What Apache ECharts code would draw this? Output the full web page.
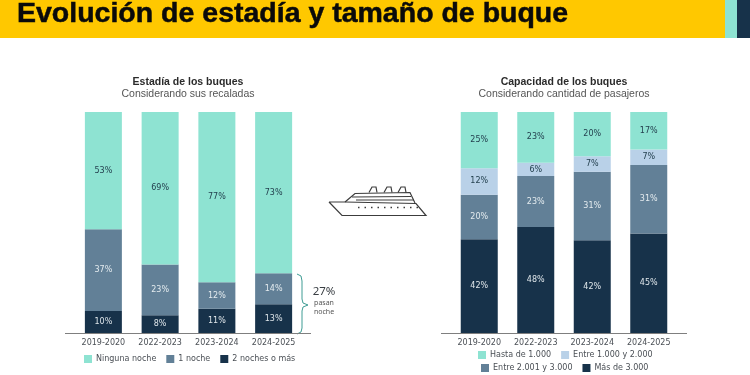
<!DOCTYPE html>
<html>
<head>
<meta charset="utf-8">
<style>
  html, body { margin: 0; padding: 0; background: #fff; }
  #chart { width: 750px; height: 375px; }
</style>
<script src="https://cdn.jsdelivr.net/npm/echarts@6/dist/echarts.min.js"></script>
</head>
<body>
<div id="chart"></div>
<script>
const years = ["2019-2020", "2022-2023", "2023-2024", "2024-2025"];

// estadia
const dosNoches = [10, 8, 11, 13];
const unaNoche = [37, 23, 12, 14];
const ningunaNoche = [53, 69, 77, 73];

// capacidad (2019-2020 rounds to 99 in the labels, bar still fills the column)
const mas3000 = [42.4, 48, 42, 45];
const entre2001 = [20.2, 23, 31, 31];
const entre1000 = [12, 6, 7, 7];
const hasta1000 = [25.4, 23, 20, 17];

const navy = "#17324a";
const slate = "#628097";
const teal = "#8ee3d2";
const pale = "#b9d1e8";
const tickFont = "DejaVu Sans";

function barSeries(name, data, color, labelColor, axisIndex) {
  return {
    name: name,
    type: "bar",
    stack: "s" + axisIndex,
    xAxisIndex: axisIndex,
    yAxisIndex: axisIndex,
    barWidth: 37,
    data: data,
    itemStyle: { color: color },
    label: {
      show: true,
      position: "inside",
      color: labelColor,
      fontFamily: tickFont,
      fontSize: 8,
      formatter: (p) => Math.round(p.value) + "%",
    },
  };
}

function legendOpt(names, left, top) {
  return {
    data: names,
    left: left,
    top: top,
    icon: "rect",
    itemWidth: 8,
    itemHeight: 8,
    itemGap: 10,
    padding: 0,
    selectedMode: false,
    textStyle: { fontFamily: tickFont, fontSize: 8, color: "#4a4f55", padding: [0, 0, 0, -1] },
  };
}

function xAxisOpt(gridIndex) {
  return {
    type: "category",
    gridIndex: gridIndex,
    data: years,
    axisTick: { show: false },
    axisLine: { lineStyle: { color: "#7f7f7f", width: 1 } },
    axisLabel: { interval: 0, fontFamily: tickFont, fontSize: 8, color: "#4a4f55", margin: 6 },
  };
}

function yAxisOpt(gridIndex) {
  return { type: "value", gridIndex: gridIndex, min: 0, max: 100, show: false };
}

function textEl(text, x, y, size, weight, color, align, font) {
  return {
    type: "text",
    x: x,
    y: y,
    style: {
      text: text,
      fontSize: size,
      fontWeight: weight,
      fill: color,
      align: align,
      verticalAlign: "middle",
      fontFamily: font || "Liberation Sans",
    },
  };
}

function lineEl(points, color, width, smooth) {
  return {
    type: "polyline",
    shape: { points: points, smooth: smooth || 0 },
    style: { stroke: color, lineWidth: width || 1, fill: null },
  };
}

const shipColor = "#3c3c3c";
const ship = [
  lineEl([[329, 202], [345, 202], [416, 203.5], [426, 215.5], [342, 215.5], [329, 202]], shipColor, 1.2),
  lineEl([[345, 202], [355, 193.5], [410, 192.5], [415, 203]], shipColor, 1.2),
  lineEl([[352, 197], [411, 196.5]], shipColor, 1.2),
  lineEl([[356, 200], [414, 200]], shipColor, 1.2),
  lineEl([[369, 192.5], [372, 187], [376, 187], [377, 192.5]], shipColor, 1.2),
  lineEl([[384, 192.5], [387, 187], [391, 187], [392, 192.5]], shipColor, 1.2),
  lineEl([[398, 192.5], [401, 187], [405, 187], [406, 192.5]], shipColor, 1.2),
  {
    type: "line",
    shape: { x1: 358, y1: 207.5, x2: 418, y2: 207.5 },
    style: { stroke: shipColor, lineWidth: 1.4, lineDash: [1.5, 5] },
  },
];

const chart = echarts.init(document.getElementById("chart"));
chart.setOption({
  animation: false,
  backgroundColor: "#fff",
  legend: [
    legendOpt(["Ninguna noche", "1 noche", "2 noches o más"], 84, 355),
    legendOpt(["Hasta de 1.000", "Entre 1.000 y 2.000"], 478, 351),
    legendOpt(["Entre 2.001 y 3.000", "Más de 3.000"], 481, 364),
  ],
  grid: [
    { left: 75, right: 448, top: 112, height: 221 },
    { left: 451, right: 73, top: 112, height: 221 },
  ],
  xAxis: [xAxisOpt(0), xAxisOpt(1)],
  yAxis: [yAxisOpt(0), yAxisOpt(1)],
  series: [
    barSeries("2 noches o más", dosNoches, navy, "#dfe6ea", 0),
    barSeries("1 noche", unaNoche, slate, "#e4ebef", 0),
    barSeries("Ninguna noche", ningunaNoche, teal, "#24414f", 0),
    barSeries("Más de 3.000", mas3000, navy, "#dfe6ea", 1),
    barSeries("Entre 2.001 y 3.000", entre2001, slate, "#e4ebef", 1),
    barSeries("Entre 1.000 y 2.000", entre1000, pale, "#24414f", 1),
    barSeries("Hasta de 1.000", hasta1000, teal, "#24414f", 1),
  ],
  graphic: {
    elements: [
      { type: "rect", shape: { x: 0, y: 0, width: 725, height: 38 }, style: { fill: "#ffc800" } },
      { type: "rect", shape: { x: 725, y: 0, width: 12, height: 38 }, style: { fill: "#8ee3d2" } },
      { type: "rect", shape: { x: 737, y: 0, width: 13, height: 38 }, style: { fill: "#17324a" } },
      {
        type: "text",
        x: 17,
        y: 14,
        style: {
          text: "Evolución de estadía y tamaño de buque",
          fontSize: 28.5,
          fontWeight: "bold",
          fill: "#0a0a0a",
          stroke: "#0a0a0a",
          lineWidth: 0.5,
          verticalAlign: "middle",
          fontFamily: "Liberation Sans",
        },
      },
      textEl("Estadía de los buques", 188, 82, 10.5, "bold", "#2b2b2b", "center"),
      textEl("Considerando sus recaladas", 188, 94, 10.5, "normal", "#555", "center"),
      textEl("Capacidad de los buques", 564, 82, 10.5, "bold", "#2b2b2b", "center"),
      textEl("Considerando cantidad de pasajeros", 564, 94, 10.5, "normal", "#555", "center"),
      // axis lines run a bit past the bands
      { type: "line", shape: { x1: 65, y1: 333.5, x2: 311, y2: 333.5 }, style: { stroke: "#7f7f7f", lineWidth: 1 } },
      { type: "line", shape: { x1: 441, y1: 333.5, x2: 687, y2: 333.5 }, style: { stroke: "#7f7f7f", lineWidth: 1 } },
      lineEl([[297, 274], [301, 276], [302, 281], [302, 299], [303, 303], [308, 305], [303, 307], [302, 311], [302, 328], [301, 332], [297, 334]], "#3f9c94", 1),
      textEl("27%", 324, 292, 11.5, "normal", "#3a3f44", "center", "Noto Sans"),
      textEl("pasan", 324, 303, 7, "normal", "#555", "center", "Noto Sans"),
      textEl("noche", 324, 312, 7, "normal", "#555", "center", "Noto Sans"),
    ].concat(ship),
  },
});
</script>
</body>
</html>
